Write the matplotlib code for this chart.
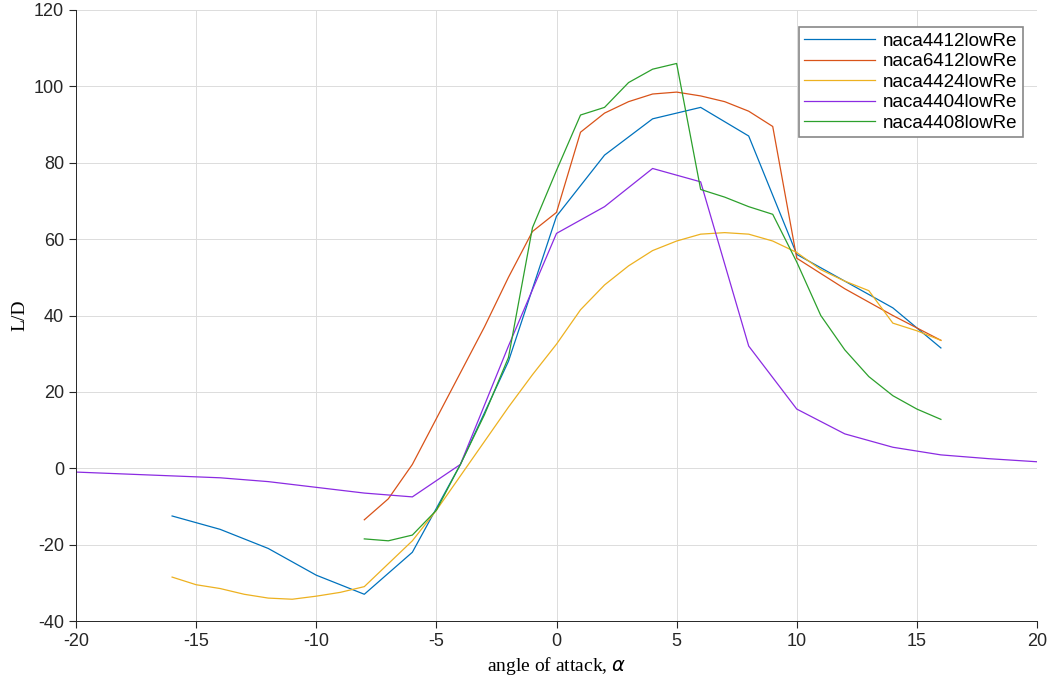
import matplotlib
matplotlib.use("Agg")
import matplotlib.pyplot as plt

x4412 = [-16,-14,-12,-10,-8,-6,-4,-2,0,2,4,6,8,10,12,14,16]
y4412 = [-12.5,-16,-21,-28,-33,-22,1,28,66,82,91.5,94.5,87,56,49,42,31.5]
x6412 = [-8,-7,-6,-5,-4,-3,-2,-1,0,1,2,3,4,5,6,7,8,9,10,12,14,16]
y6412 = [-13.5,-8,1,13,25,37,50,62,67,88,93,96,98,98.5,97.5,96,93.5,89.5,55,47,40,33.5]
x4424 = list(range(-16,17))
y4424 = [-28.5,-30.5,-31.5,-33,-34,-34.3,-33.5,-32.5,-31,-25,-19,-11,-2,7,16,24.5,32.5,41.5,48,53,57,59.5,61.3,61.7,61.3,59.5,56.5,52,49,46.5,38,36,33.5]
x4404 = [-20,-16,-14,-12,-10,-8,-6,-4,-2,0,2,4,6,8,10,12,14,16,18,20]
y4404 = [-1,-2,-2.5,-3.5,-5,-6.5,-7.5,1,32,61.5,68.5,78.5,75,32,15.5,9,5.5,3.5,2.5,1.7]
x4408 = list(range(-8,17))
y4408 = [-18.5,-19,-17.5,-11,1,14,29,63,78,92.5,94.5,101,104.5,106,73,71,68.5,66.5,54,40,31,24,19,15.5,12.8]

series = [("naca4412lowRe", x4412, y4412, "#0072BD"),
          ("naca6412lowRe", x6412, y6412, "#D95319"),
          ("naca4424lowRe", x4424, y4424, "#EDB120"),
          ("naca4404lowRe", x4404, y4404, "#8B2BE2"),
          ("naca4408lowRe", x4408, y4408, "#2CA02C")]

plt.rcParams['font.family'] = ['Liberation Sans', 'DejaVu Sans']
plt.rcParams['axes.unicode_minus'] = False
fig = plt.figure(figsize=(10.51, 6.82), dpi=100)
ax = fig.add_axes([76/1051, 1-621/682, (1037-76)/1051, (621-10)/682])
for name, x, y, c in series:
    ax.plot(x, y, color=c, lw=0.9, label=name)
ax.set_xlim(-20, 20)
ax.set_ylim(-40, 120)
ax.set_xticks(range(-20, 21, 5))
ax.set_yticks(range(-40, 121, 20))
ax.grid(True, color="#dcdcdc", lw=0.7)
ax.tick_params(labelsize=13, direction="out", length=5, color="#262626", labelcolor="#262626")
ax.spines['top'].set_visible(False)
ax.spines['right'].set_visible(False)
for s in ('left', 'bottom'):
    ax.spines[s].set_color("#262626"); ax.spines[s].set_linewidth(0.7)
ax.set_xlabel(r"angle of attack, $\alpha$", fontsize=14, family="Liberation Serif")
ax.set_ylabel("L/D", fontsize=14, family="Liberation Serif")
leg = ax.legend(loc="upper right", fontsize=13.5, fancybox=False, framealpha=1,
                edgecolor="#888888", handlelength=3.8, handletextpad=0.4,
                borderaxespad=0.0, labelspacing=0.18, borderpad=0.3,
                bbox_to_anchor=(1 - 14/961, 1 - 17/611))
leg.get_frame().set_linewidth(1.2)
fig.savefig("out.png", dpi=100, facecolor="white")
